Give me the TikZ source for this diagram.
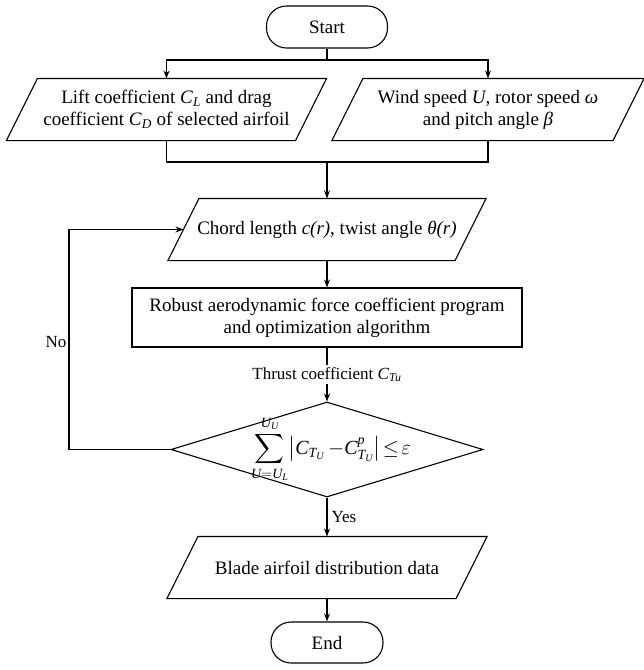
\documentclass[tikz,border=0pt]{standalone}
\usepackage{amsmath}
\usepackage{fontspec}
\setmainfont{Liberation Serif}
\usetikzlibrary{shapes.geometric,arrows.meta,calc}
\begin{document}
\begin{tikzpicture}[x=1pt,y=-1pt,
  line width=1.1pt,
  >={Stealth[length=8pt,width=6pt]},
  every node/.style={font=\fontsize{19}{22}\selectfont, align=center, inner sep=0pt},
  term/.style={draw, rounded corners=20pt, minimum width=121pt, minimum height=42pt},
  paral/.style={minimum height=61pt},
  procbox/.style={draw, minimum width=390pt, minimum height=59pt},
  decision/.style={draw, diamond, minimum width=312pt, minimum height=95pt},
  formula/.style={font=\fontsize{20}{24}\selectfont},
  lbl/.style={font=\fontsize{17}{20}\selectfont}]
\useasboundingbox (0,0) rectangle (644,670);

\node[term] (start) at (327,27) {Start};
\node[paral, minimum width=288pt] (lift) at (166.5,109.5) {Lift coefficient \textit{C}\textsubscript{\textit{L}} and drag\\coefficient \textit{C}\textsubscript{\textit{D}} of selected airfoil};
\node[paral, minimum width=280pt] (wind) at (488,109.5) {Wind speed \textit{U}, rotor speed \textit{ω}\\and pitch angle \textit{β}};
\node[paral, minimum width=286pt] (chord) at (327,229.5) {Chord length \textit{c(r)}, twist angle \textit{θ(r)}};
\node[procbox] (robust) at (327,317.5) {Robust aerodynamic force coefficient program\\and optimization algorithm};
\node[decision] (dia) at (327,449.5) {};
\node[formula] (cond) at (331,449.5) {\(\displaystyle\sum_{\mathit{U=U_L}}^{\mathit{U_U}}\!\left|\mathit{C}_{\mathit{T_U}}\,{-}\mathit{C}^{\mathit{p}}_{\mathit{T_U}}\right|\!\le\!\varepsilon\)};
\node[paral, minimum width=288pt] (blade) at (327,567.5) {Blade airfoil distribution data};
\node[term, minimum width=112pt, minimum height=41pt] (end) at (327,642.5) {End};

\foreach \n in {lift,wind,chord,blade}
  \draw ($(\n.north west)+(15.5,0)$) -- ($(\n.north east)+(15.5,0)$) -- ($(\n.south east)+(-15.5,0)$) -- ($(\n.south west)+(-15.5,0)$) -- cycle;

\coordinate (split) at (327,60);
\coordinate (join) at (327,162);
\coordinate (noc) at (69,449.5);

\draw (start.south) -- (split);
\draw[->] (split) -| (lift.north);
\draw[->] (split) -| (wind.north);
\draw (lift.south) |- (join);
\draw (wind.south) |- (join);
\draw[->] (join) -- (chord.north);
\draw[->] (chord.south) -- (robust.north);
\draw[->] (robust.south) -- node[lbl, fill=white, inner sep=2pt] (thrust) {Thrust coefficient \textit{C}\textsubscript{\textit{Tu}}} (dia.north);
\draw[->] (dia.south) -- node[lbl, right=4pt] (yes) {Yes} (blade.north);
\draw[->] (blade.south) -- (end.north);
\draw[->] (dia.west) -- (noc) |- (chord.west);
\node[lbl, anchor=east] (no) at (67,342) {No};
\end{tikzpicture}
\end{document}
